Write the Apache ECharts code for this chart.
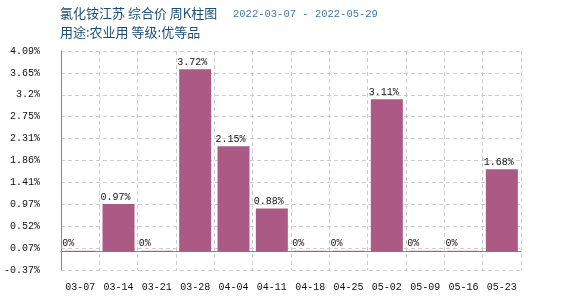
<!DOCTYPE html>
<html>
<head>
<meta charset="utf-8">
<script src="https://cdn.jsdelivr.net/npm/echarts@6/dist/echarts.min.js"></script>
<style>html,body{margin:0;padding:0;background:#fff}#c{width:570px;height:300px}</style>
</head>
<body>
<div id="c"></div>
<script>
var categories = ['03-07','03-14','03-21','03-28','04-04','04-11','04-18','04-25','05-02','05-09','05-16','05-23'];
var values = [0, 0.97, 0, 3.72, 2.15, 0.88, 0, 0, 3.11, 0, 0, 1.68];
var yMin = -0.374, yMax = 4.094, yStep = 0.4468;
var titleMain = '氯化铵江苏 综合价 周K柱图';
var titleDate = '2022-03-07 - 2022-05-29';
var subTitle = '用途:农业用 等级:优等品';

function fmt(v){ var s = v.toFixed(2); s = s.replace(/\.?0+$/,''); if (s === '-0') s = '0'; return s + '%'; }

var chart = echarts.init(document.getElementById('c'), null, {renderer:'canvas'});
chart.setOption({
  animation: false,
  graphic: [
    { type: 'text', left: 60, top: 7, style: { text: titleMain, font: 'normal 13px "Noto Sans CJK SC"', fill: '#1b4f7a' } },
    { type: 'text', left: 233, top: 9, style: { text: titleDate, font: 'normal 10.5px "Liberation Mono"', fill: '#3f77a8' } },
    { type: 'text', left: 60, top: 26, style: { text: subTitle, font: 'normal 13px "Noto Sans CJK SC"', fill: '#1b4f7a' } }
  ],
  grid: { left: 61, right: 49, top: 51, bottom: 30, containLabel: false },
  xAxis: {
    type: 'category', data: categories, boundaryGap: true,
    axisLine: { lineStyle: { color: '#888', width: 1 } },
    axisTick: { show: false },
    axisLabel: { color: '#111', fontFamily: 'Liberation Mono', fontSize: 10, margin: 12, interval: 0 },
    splitLine: { show: true, interval: 0, lineStyle: { color: '#ccc', type: [4,3] } }
  },
  yAxis: {
    type: 'value', min: yMin, max: yMax, interval: yStep,
    axisLine: { show: true, lineStyle: { color: '#888', width: 1 } },
    axisTick: { show: false },
    axisLabel: { color: '#111', fontFamily: 'Liberation Mono', fontSize: 10, margin: 21, formatter: fmt },
    splitLine: { show: true, lineStyle: { color: '#ccc', type: [4,3] } }
  },
  series: [{
    type: 'bar', data: values, barWidth: 32, barMinHeight: 1,
    itemStyle: { color: '#ab5a85' },
    label: { show: true, position: [-2, -12], fontFamily: 'Liberation Mono', fontSize: 10, color: '#111',
      formatter: function(p){ return fmt(p.value); } }
  }]
});
</script>
</body>
</html>
